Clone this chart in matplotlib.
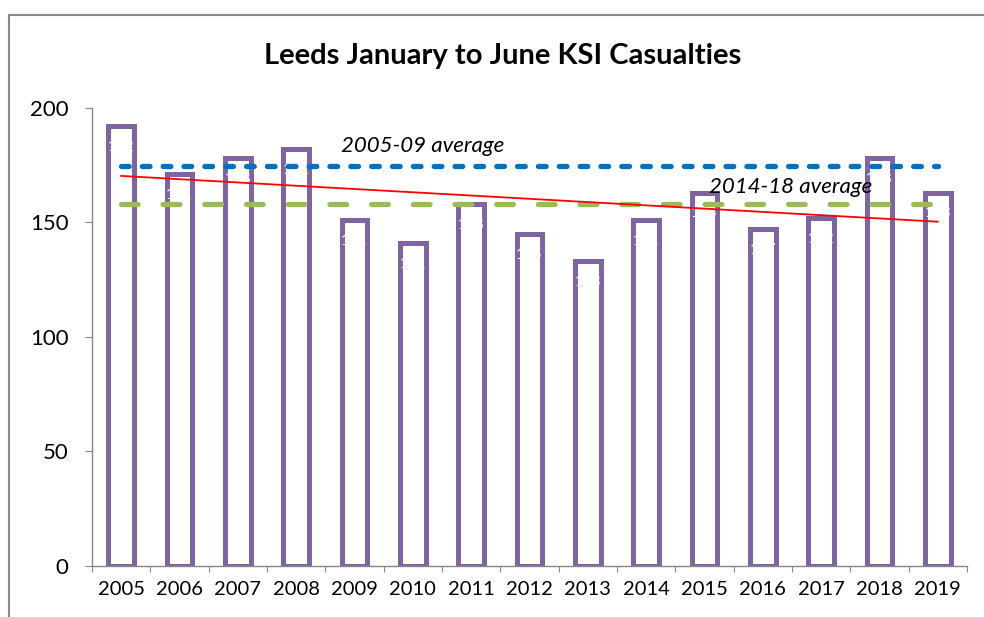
import matplotlib.pyplot as plt
import numpy as np
from matplotlib.patches import Rectangle

years = ['2005', '2006', '2007', '2008', '2009', '2010', '2011', '2012',
         '2013', '2014', '2015', '2016', '2017', '2018', '2019']
casualties = [192, 171, 178, 182, 151, 141, 158, 145, 133, 151, 163, 147, 152, 178, 163]
avg_0509 = 174.8
avg_1418 = 158.2

plt.rcParams['font.family'] = ['Lato', 'DejaVu Sans']

fig = plt.figure(figsize=(9.84, 6.17), dpi=100)
ax = fig.add_axes([0.0935, 0.0827, 0.8892, 0.7423])

x = np.arange(len(years))
bars = ax.bar(x, casualties, width=0.44, color='white', edgecolor='#8064A2',
              linewidth=3.6, zorder=2)
for xi, v in zip(x, casualties):
    ax.text(xi, v - 6, str(v), color='white', ha='center', va='top',
            fontsize=11, zorder=3)

# averages
ax.plot([x[0], x[-1]], [avg_0509, avg_0509], color='#0070C0', lw=3.8,
        linestyle=(0, (1.45, 2.5)), dash_capstyle='round', zorder=4)
ax.plot([x[0], x[-1]], [avg_1418, avg_1418], color='#9BBB59', lw=3.8,
        linestyle=(0, (3.15, 4.75)), dash_capstyle='round', zorder=4)

# linear trend
coef = np.polyfit(x, casualties, 1)
ax.plot([x[0], x[-1]], np.polyval(coef, [x[0], x[-1]]), color='#FF0000',
        lw=1.3, zorder=5)

ax.text(5.16, 183.4, '2005-09 average', style='italic', fontsize=16,
        ha='center', va='center', zorder=6)
ax.text(11.48, 165.5, '2014-18 average', style='italic', fontsize=16,
        ha='center', va='center', zorder=6)

ax.set_xlim(-0.5, len(years) - 0.5)
ax.set_ylim(0, 200)
ax.set_xticks(np.arange(-0.5, len(years), 1))
ax.set_xticklabels([])
ax.set_xticks(x, minor=True)
ax.set_xticklabels(years, minor=True, fontsize=14.5)
ax.tick_params(axis='x', which='minor', length=0, pad=11)
ax.tick_params(axis='x', which='major', length=4.5, color='#868686')
ax.set_yticks([0, 50, 100, 150, 200])
ax.tick_params(axis='y', labelsize=16, length=5, color='#868686', pad=12)

for s in ['top', 'right']:
    ax.spines[s].set_visible(False)
for s in ['left', 'bottom']:
    ax.spines[s].set_color('#868686')
    ax.spines[s].set_linewidth(1)

fig.text(0.5107, 0.91, 'Leeds January to June KSI Casualties', fontsize=21,
         fontweight='bold', ha='center', va='center')

fig.patches.append(Rectangle((9 / 984, -0.1), 1.2, 1 - 15 / 617 + 0.1,
                             transform=fig.transFigure, fill=False,
                             edgecolor='#888888', linewidth=1.5))

fig.savefig('out.png', dpi=100)
